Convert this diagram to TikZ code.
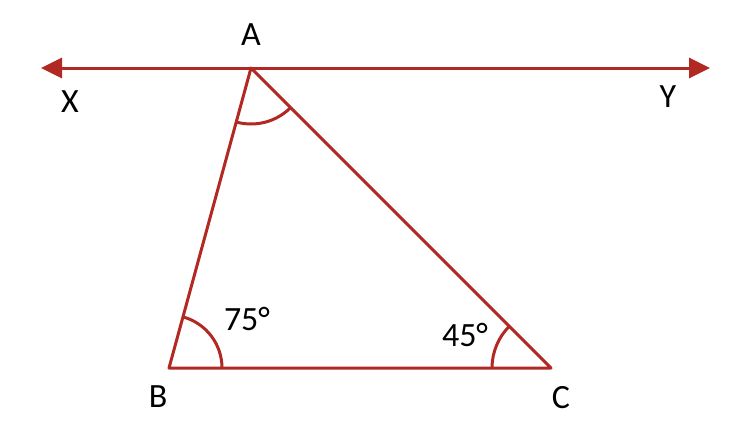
\documentclass[tikz,border=0pt]{standalone}
\usepackage{fontspec}
\setmainfont{Carlito}
\usetikzlibrary{arrows.meta,angles}
\definecolor{geored}{RGB}{178,40,34}
\begin{document}
\begin{tikzpicture}[x=1pt,y=-1pt,
  seg/.style={draw=geored,line width=3pt,line join=round},
  arcmark/.style={draw=geored,line width=3pt},
  lbl/.style={font=\fontsize{34}{40}\selectfont,text=black,inner sep=0pt}]
\useasboundingbox (0,0) rectangle (752,426);
\coordinate (A) at (251,68);
\coordinate (B) at (169,368);
\coordinate (C) at (551,368);
\coordinate (X) at (41,68);
\coordinate (Y) at (710,68);
\draw[seg,{Triangle[length=21pt,width=20pt]}-{Triangle[length=21pt,width=20pt]}] (X) -- (Y);
\draw[seg] (A) -- (B) -- (C) -- cycle;
\pic[arcmark,angle radius=56pt] {angle=B--A--C};
\pic[arcmark,angle radius=53pt] {angle=C--B--A};
\pic[arcmark,angle radius=59pt] {angle=A--C--B};
\node[lbl] (la) at (251,35) {A};
\node[lbl] (lx) at (70,102) {X};
\node[lbl] (ly) at (668,97) {Y};
\node[lbl] (lb) at (158,397) {B};
\node[lbl] (lc) at (561,398) {C};
\node[lbl,anchor=base] (l75) at (247,330) {75°};
\node[lbl,anchor=base] (l45) at (465,346) {45°};
\end{tikzpicture}
\end{document}
